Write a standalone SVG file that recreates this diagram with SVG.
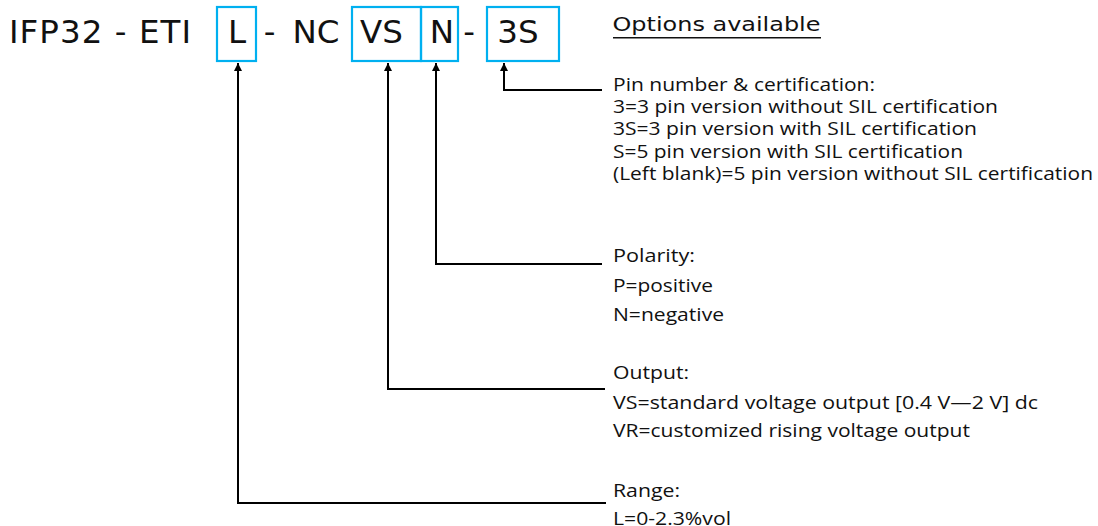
<svg xmlns="http://www.w3.org/2000/svg" width="1098" height="526" viewBox="0 0 1098 526">
<style>
.title{font-family:"DejaVu Sans","Verdana",sans-serif;font-size:32.5px;fill:#111}
.mid{text-anchor:middle}
.box{fill:none;stroke:#00B0F0;stroke-width:2.2}
.hdr{font-family:"DejaVu Sans","Verdana",sans-serif;font-size:19px;fill:#111}
.d1{font-family:"Open Sans","Lato",sans-serif;font-size:18px;fill:#111}
.d2{font-family:"Open Sans","Lato",sans-serif;font-size:19px;fill:#111}
.con{fill:none;stroke:#000;stroke-width:2}
</style>
<defs>
<marker id="arr" markerUnits="userSpaceOnUse" markerWidth="8" markerHeight="8" refX="8" refY="4" orient="auto">
<path d="M0,0 L8,4 L0,8 z" fill="#000"/>
</marker>
</defs>
<rect width="1098" height="526" fill="#fff"/>
<g id="code">
<text class="title" x="9" y="43.3" textLength="182">IFP32 - ETI</text>
<text class="title mid" x="269.5" y="43.3">-</text>
<text class="title mid" x="316" y="43.3">NC</text>
<text class="title mid" x="469" y="43.3">-</text>
</g>
<g id="node-L">
<rect class="box" x="217" y="7" width="39" height="54"/>
<text class="title mid" x="237" y="43.3">L</text>
</g>
<g id="node-VS">
<rect class="box" x="352" y="7" width="69" height="54"/>
<text class="title mid" x="381.5" y="43.3">VS</text>
</g>
<g id="node-N">
<rect class="box" x="421" y="7" width="37" height="54"/>
<text class="title mid" x="442" y="43.3">N</text>
</g>
<g id="node-3S">
<rect class="box" x="487" y="7" width="72" height="54"/>
<text class="title mid" x="518" y="43.3">3S</text>
</g>
<g id="options-header">
<text class="hdr" x="612.5" y="31" textLength="208" lengthAdjust="spacingAndGlyphs">Options available</text>
<line x1="613" y1="37.8" x2="821" y2="37.8" stroke="#111" stroke-width="1.5"/>
</g>
<g id="node-pin">
<text class="d1" x="613" y="90.5" textLength="262" lengthAdjust="spacingAndGlyphs">Pin number &amp; certification:</text>
<text class="d1" x="613" y="112.8" textLength="385" lengthAdjust="spacingAndGlyphs">3=3 pin version without SIL certification</text>
<text class="d1" x="613" y="135.2" textLength="364" lengthAdjust="spacingAndGlyphs">3S=3 pin version with SIL certification</text>
<text class="d1" x="613" y="157.6" textLength="350" lengthAdjust="spacingAndGlyphs">S=5 pin version with SIL certification</text>
<text class="d1" x="613" y="180" textLength="480" lengthAdjust="spacingAndGlyphs">(Left blank)=5 pin version without SIL certification</text>
</g>
<g id="node-polarity">
<text class="d2" x="613" y="262" textLength="82" lengthAdjust="spacingAndGlyphs">Polarity:</text>
<text class="d2" x="613" y="291.5" textLength="100" lengthAdjust="spacingAndGlyphs">P=positive</text>
<text class="d2" x="613" y="320.5" textLength="111" lengthAdjust="spacingAndGlyphs">N=negative</text>
</g>
<g id="node-output">
<text class="d2" x="613" y="378.8" textLength="76" lengthAdjust="spacingAndGlyphs">Output:</text>
<text class="d2" x="613" y="408.5" textLength="425" lengthAdjust="spacingAndGlyphs">VS=standard voltage output [0.4 V—2 V] dc</text>
<text class="d2" x="613" y="437.3" textLength="357" lengthAdjust="spacingAndGlyphs">VR=customized rising voltage output</text>
</g>
<g id="node-range">
<text class="d2" x="613" y="496.8" textLength="67" lengthAdjust="spacingAndGlyphs">Range:</text>
<text class="d2" x="613" y="525" textLength="118" lengthAdjust="spacingAndGlyphs">L=0-2.3%vol</text>
</g>
<g id="connectors">
<path class="con" d="M602,90 H504 V63" marker-end="url(#arr)"/>
<path class="con" d="M602,264 H436 V63" marker-end="url(#arr)"/>
<path class="con" d="M605,389 H388 V63" marker-end="url(#arr)"/>
<path class="con" d="M606,503 H238 V63" marker-end="url(#arr)"/>
</g>
</svg>
